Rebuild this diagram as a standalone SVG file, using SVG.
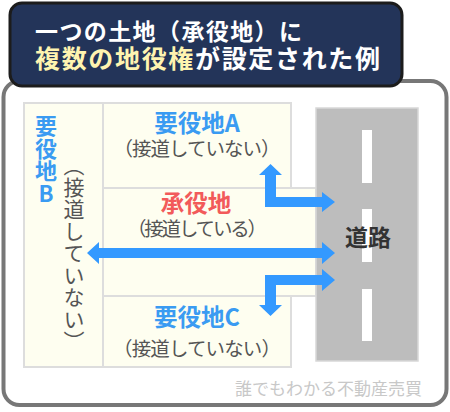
<svg xmlns="http://www.w3.org/2000/svg" width="450" height="412" viewBox="0 0 450 412">
<style>
text{font-family:"Noto Sans CJK JP","Noto Sans",sans-serif;}
.panel{fill:#fefef0;stroke:#dddddd;stroke-width:2;}
.blue{fill:#3a9bf2;font-weight:bold;font-size:23.5px;text-anchor:middle;}
.gray{fill:#555555;font-size:19.5px;text-anchor:middle;}
.arrow{fill:#3399ff;}
.dash{fill:#ffffff;}
</style>
<rect id="frame" x="3.5" y="81" width="443" height="324" rx="16" fill="#ffffff" stroke="#777777" stroke-width="4"/>
<g id="title">
<rect x="10" y="3" width="392" height="83" rx="12" fill="#233459" stroke="#1c1c1c" stroke-width="3"/>
<text x="35" y="40" font-size="23" font-weight="bold" fill="#ffffff" textLength="267" lengthAdjust="spacing">一つの土地（承役地）に</text>
<text x="35" y="68" font-size="25" font-weight="bold" textLength="345" lengthAdjust="spacing"><tspan fill="#fff4b0">複数の地役権</tspan><tspan fill="#ffffff">が設定された例</tspan></text>
</g>
<g id="node-B">
<rect class="panel" x="24" y="103" width="79" height="264"/>
<text x="46" y="115" font-size="22" font-weight="bold" fill="#3a9bf2" letter-spacing="0.5" style="writing-mode:vertical-rl;text-orientation:upright">要役地B</text>
<text x="74" y="155" font-size="21" letter-spacing="1" fill="#555555" style="writing-mode:vertical-rl">（接道していない）</text>
</g>
<g id="node-A">
<rect class="panel" x="103" y="103" width="188" height="85"/>
<text class="blue" x="197" y="132">要役地A</text>
<text class="gray" x="197" y="156" textLength="167" lengthAdjust="spacing">（接道していない）</text>
</g>
<g id="node-servient">
<rect class="panel" x="103" y="188" width="213" height="108"/>
<text class="blue" x="196" y="212" style="fill:#f25a5a">承役地</text>
<text class="gray" x="197" y="236" textLength="140" lengthAdjust="spacing">（接道している）</text>
</g>
<g id="node-C">
<rect class="panel" x="103" y="296" width="188" height="71"/>
<text class="blue" x="197" y="326">要役地C</text>
<text class="gray" x="197" y="356" textLength="168" lengthAdjust="spacing">（接道していない）</text>
</g>
<g id="node-road">
<rect x="316" y="108" width="102" height="253" fill="#bdbdbd" stroke="#d8d8d8" stroke-width="1.5"/>
<rect class="dash" x="362" y="130" width="10" height="53"/>
<rect class="dash" x="362" y="209" width="10" height="53"/>
<rect class="dash" x="362" y="289" width="10" height="52"/>
<text x="368" y="246" font-size="23" font-weight="bold" fill="#333333" text-anchor="middle">道路</text>
</g>
<g id="connectors">
<polygon class="arrow" points="270.5,164 282,175 276,175 276,197 322,197 322,192 335,202 322,212 322,207 265,207 265,175 259,175"/>
<polygon class="arrow" points="87,253 99,242 99,248 322,248 322,242 335,253 322,264 322,258 99,258 99,264"/>
<polygon class="arrow" points="265,275 322,275 322,269 335,280 322,291 322,285 276,285 276,305 282,305 270.5,316 259,305 265,305"/>
</g>
<text id="footer" x="422" y="395" font-size="17" fill="#c8c8c8" text-anchor="end">誰でもわかる不動産売買</text>
</svg>
